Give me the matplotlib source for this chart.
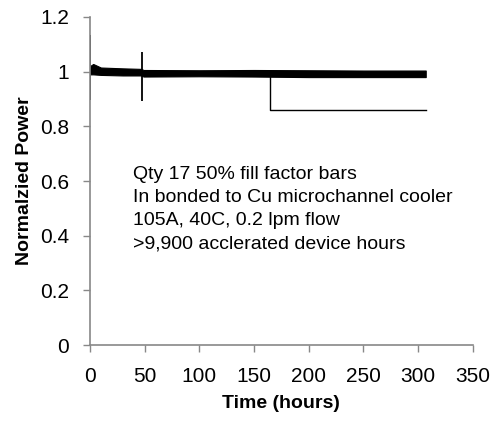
import matplotlib
matplotlib.use("Agg")
import matplotlib.pyplot as plt

# Envelope of the overlapping 17 traces (thick black band)
band_t = [0, 3, 10, 30, 47, 49, 100, 150, 200, 250, 307]
band_lo = [0.99, 0.99, 0.988, 0.986, 0.986, 0.982, 0.983, 0.982, 0.980, 0.980, 0.980]
band_hi = [1.02, 1.028, 1.015, 1.012, 1.010, 1.006, 1.005, 1.006, 1.005, 1.004, 1.004]

# Transient spikes
spike_t = [0.5, 48]
spike_lo = [0.897, 0.894]
spike_hi = [1.135, 1.07]

# Trace of the one bar that drops
drop_t = [0, 164.5, 164.5, 307]
drop_v = [1.0, 1.0, 0.861, 0.861]

x_ticks = [0, 50, 100, 150, 200, 250, 300, 350]
y_ticks = [0, 0.2, 0.4, 0.6, 0.8, 1.0, 1.2]
y_tick_labels = ["0", "0.2", "0.4", "0.6", "0.8", "1", "1.2"]

annotation = ["Qty 17 50% fill factor bars",
              "In bonded to Cu microchannel cooler",
              "105A, 40C, 0.2 lpm flow",
              ">9,900 acclerated device hours"]

plt.rcParams['font.family'] = ['Liberation Sans', 'DejaVu Sans']

fig = plt.figure(figsize=(4.94, 4.23), dpi=100)
ax = fig.add_axes([0.182, 0.184, 0.775, 0.776])

ax.plot(drop_t, drop_v, color='black', lw=1.0)
ax.fill_between(band_t, band_lo, band_hi, color='black', lw=0.8, edgecolor='black')
ax.vlines(spike_t, spike_lo, spike_hi, color='black', lw=1.3)

ax.set_xlim(0, 350)
ax.set_ylim(0, 1.2)
ax.set_xticks(x_ticks)
ax.set_yticks(y_ticks)
ax.set_yticklabels(y_tick_labels)

for s in ['top', 'right']:
    ax.spines[s].set_visible(False)
for s in ['left', 'bottom']:
    ax.spines[s].set_color('#888888')
    ax.spines[s].set_linewidth(1.2)
ax.tick_params(direction='out', length=5, width=1, color='#888888',
               labelsize=15, labelcolor='black')
ax.tick_params(axis='y', pad=10)
ax.tick_params(axis='x', pad=11)

ax.set_xlabel("Time (hours)", fontsize=14, fontweight='bold', labelpad=6)
ax.set_ylabel("Normalzied Power", fontsize=14, fontweight='bold', labelpad=5)

ax.text(39, 0.655, "\n".join(annotation), fontsize=14, va='top', ha='left',
        linespacing=1.47)

fig.savefig("out.png", dpi=100)
